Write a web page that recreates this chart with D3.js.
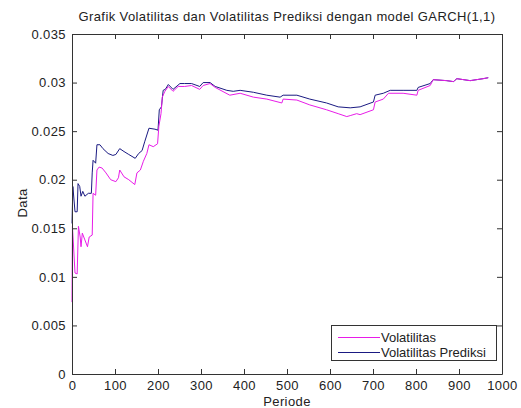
<!DOCTYPE html>
<html><head><meta charset="utf-8">
<script src="https://cdn.jsdelivr.net/npm/d3@7"></script>
<style>body{margin:0;background:#fff;} text{font-family:"Liberation Sans",Arial,sans-serif;letter-spacing:0.4px;}</style>
</head><body><svg id="c" width="521" height="408"></svg>
<script>
const volPeriod = [0,1,7,12,15,19,21,24,30,36,40,47,49,55,58,63,70,79,90,102,108,111,121,132,146,151,159,166,174,179,189,199,202,207,210,216,224,235,247,262,278,297,305,321,333,367,391,422,453,488,491,523,553,592,619,639,647,662,670,701,705,724,736,770,802,805,833,840,871,887,895,926,956,968];
const volValue  = [0.0074,0.0152,0.0104,0.0103,0.0152,0.0141,0.0131,0.0145,0.0138,0.0131,0.0141,0.0143,0.0186,0.0184,0.0210,0.0213,0.0212,0.0207,0.0200,0.0198,0.0202,0.0210,0.0203,0.0200,0.0195,0.0207,0.0210,0.0219,0.0227,0.0236,0.0234,0.0237,0.0255,0.0268,0.0285,0.0291,0.0296,0.0291,0.0296,0.0296,0.0297,0.0293,0.0297,0.0299,0.0295,0.0287,0.0289,0.0285,0.0283,0.0279,0.0283,0.0282,0.0277,0.0272,0.0268,0.0265,0.0266,0.0268,0.0267,0.0272,0.0280,0.0283,0.0289,0.0289,0.0287,0.0292,0.0297,0.0303,0.0302,0.0301,0.0304,0.0302,0.0304,0.0305];
const predPeriod = [0,2,7,12,14,18,21,25,30,38,45,47,49,55,58,65,72,84,95,102,111,121,132,147,155,163,169,179,193,200,203,208,212,217,224,235,251,262,278,297,305,321,333,360,375,391,422,453,484,491,523,553,592,619,647,670,701,705,724,740,770,802,805,833,840,871,887,895,926,956,968];
const predValue  = [0.0155,0.0193,0.0167,0.0167,0.0196,0.0193,0.0183,0.0188,0.0183,0.0186,0.0186,0.0207,0.0220,0.0217,0.0236,0.0236,0.0232,0.0227,0.0225,0.0226,0.0232,0.0229,0.0226,0.0222,0.0227,0.0230,0.0239,0.0253,0.0252,0.0251,0.0272,0.0275,0.0292,0.0293,0.0298,0.0293,0.0299,0.0299,0.0299,0.0296,0.0300,0.0300,0.0296,0.0292,0.0291,0.0292,0.0290,0.0287,0.0285,0.0287,0.0287,0.0283,0.0279,0.0275,0.0274,0.0275,0.0280,0.0287,0.0289,0.0292,0.0292,0.0292,0.0295,0.0299,0.0303,0.0302,0.0301,0.0304,0.0302,0.0304,0.0305];
const xTicks = [0,100,200,300,400,500,600,700,800,900,1000];
const xTickLabels = ["0","100","200","300","400","500","600","700","800","900","1000"];
const yTicks = [0,0.005,0.01,0.015,0.02,0.025,0.03,0.035];
const yTickLabels = ["0","0.005","0.01","0.015","0.02","0.025","0.03","0.035"];
const seriesNames = ["Volatilitas","Volatilitas Prediksi"];
const seriesColors = ["#e81ce8","#1a1a82"];

const svg = d3.select("#c");
const L=72,R=502,T=34,B=374;
const x = d3.scaleLinear().domain([0,1000]).range([L,R]);
const y = d3.scaleLinear().domain([0,0.035]).range([B,T]);

const line = d3.line().x(d=>x(d[0])).y(d=>y(d[1]));
const s1 = volPeriod.map((p,i)=>[p,volValue[i]]);
const s2 = predPeriod.map((p,i)=>[p,predValue[i]]);
svg.append("path").attr("d",line(s2)).attr("fill","none").attr("stroke",seriesColors[1]).attr("stroke-width",1);
svg.append("path").attr("d",line(s1)).attr("fill","none").attr("stroke",seriesColors[0]).attr("stroke-width",1);

const fs = 13;
const ax = svg.append("g").attr("transform",`translate(0,${B})`).call(d3.axisBottom(x).tickValues(xTicks).tickSizeInner(-5).tickSizeOuter(0).tickFormat((d,i)=>xTickLabels[i]));
const axT = svg.append("g").attr("transform",`translate(0,${T})`).call(d3.axisTop(x).tickValues(xTicks).tickSizeInner(-5).tickSizeOuter(0).tickFormat(""));
const ay = svg.append("g").attr("transform",`translate(${L},0)`).call(d3.axisLeft(y).tickValues(yTicks).tickSizeInner(-5).tickSizeOuter(0).tickPadding(6).tickFormat((d,i)=>yTickLabels[i]));
const ayR = svg.append("g").attr("transform",`translate(${R},0)`).call(d3.axisRight(y).tickValues(yTicks).tickSizeInner(-5).tickSizeOuter(0).tickFormat(""));
[ax,axT,ay,ayR].forEach(g=>{
  g.selectAll("path").attr("stroke","#333").attr("stroke-width",1);
  g.selectAll("line").attr("stroke","#333");
  g.selectAll("text").attr("font-size",fs).attr("fill","#222").attr("font-family","Liberation Sans, Arial, sans-serif");
});
ax.selectAll("text").attr("y",16).attr("dy",0);

svg.append("text").attr("x",(L+R)/2).attr("y",21).attr("text-anchor","middle").attr("font-size",fs).attr("fill","#222").text("Grafik Volatilitas dan Volatilitas Prediksi dengan model GARCH(1,1)");
svg.append("text").attr("x",(L+R)/2).attr("y",406).attr("text-anchor","middle").attr("font-size",fs).attr("fill","#222").text("Periode");
svg.append("text").attr("transform",`translate(26.5,${(T+B)/2 - 1}) rotate(-90)`).attr("text-anchor","middle").attr("font-size",fs).attr("fill","#222").text("Data");

const lg = svg.append("g");
lg.append("rect").attr("x",331.5).attr("y",325.5).attr("width",165).attr("height",35).attr("fill","#fff").attr("stroke","#333");
seriesNames.forEach((n,i)=>{
  const yy = 337.5 + i*15;
  lg.append("line").attr("x1",338).attr("x2",380).attr("y1",yy).attr("y2",yy).attr("stroke",seriesColors[i]);
  lg.append("text").attr("x",381).attr("y",yy+4.5).attr("font-size",fs).style("letter-spacing","0px").attr("fill","#222").text(n);
});
</script></body></html>
